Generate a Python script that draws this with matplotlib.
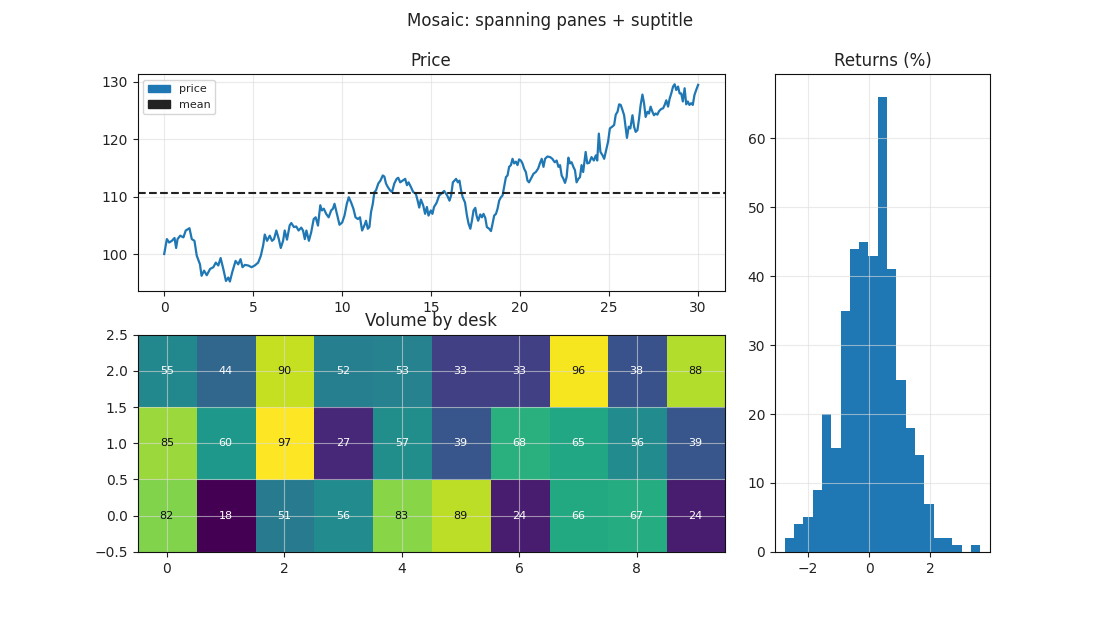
import numpy as np
import matplotlib
matplotlib.use("Agg")
import matplotlib.pyplot as plt
import matplotlib.patches as mpatches

# price series (time, price)
t_price = [
    0, 0.15, 0.28, 0.43, 0.58, 0.67, 0.75, 0.9, 1.08, 1.21, 1.42, 1.55, 1.7, 1.83, 2.01, 2.1,
    2.24, 2.39, 2.58, 2.76, 2.9, 3.04, 3.17, 3.32, 3.47, 3.6, 3.69, 3.82, 4.01, 4.16, 4.29, 4.4,
    4.53, 4.72, 4.91, 5.09, 5.28, 5.43, 5.56, 5.65, 5.78, 5.93, 6.06, 6.17, 6.3, 6.44, 6.55, 6.68,
    6.77, 6.9, 7.05, 7.14, 7.29, 7.42, 7.55, 7.7,
    7.8, 7.9, 7.99, 8.13, 8.26, 8.4, 8.51, 8.64, 8.77, 8.86, 8.97, 9.1, 9.24, 9.38, 9.48, 9.57,
    9.66, 9.76, 9.85, 10.0, 10.13, 10.26, 10.37, 10.5, 10.63, 10.75, 10.88, 11.0, 11.12, 11.25,
    11.34, 11.44, 11.53, 11.62, 11.72, 11.81, 11.9, 12.03, 12.15, 12.28, 12.37, 12.46, 12.56,
    12.69, 12.8, 12.93, 13.06, 13.15, 13.26, 13.4, 13.54, 13.64, 13.73, 13.86, 13.99, 14.14,
    14.24, 14.33, 14.42, 14.55, 14.66, 14.76, 14.85, 14.98, 15.07, 15.16, 15.3, 15.45, 15.6, 15.73,
    15.9, 16.03, 16.12, 16.22, 16.31, 16.4, 16.5, 16.59, 16.68, 16.77, 16.9, 17.01, 17.1, 17.2,
    17.29, 17.38, 17.48, 17.55, 17.64, 17.76, 17.85, 17.94, 18.04, 18.13, 18.26, 18.36, 18.45,
    18.54, 18.64, 18.73, 18.82, 18.92, 19.01, 19.1, 19.2, 19.29, 19.38, 19.48, 19.57, 19.66,
    19.76, 19.85, 19.94, 20.04, 20.13, 20.22, 20.32, 20.41, 20.5, 20.6, 20.75, 20.88, 21.01,
    21.12, 21.21, 21.31, 21.4, 21.53, 21.68, 21.81, 21.94, 22.05, 22.15, 22.24, 22.33, 22.43,
    22.52, 22.61, 22.71, 22.8, 22.89, 22.99, 23.08, 23.17, 23.27, 23.36,
    23.45, 23.54, 23.68, 23.77, 23.88, 24.01, 24.14, 24.25, 24.33, 24.42, 24.51, 24.63, 24.72,
    24.81, 24.94, 25.04, 25.17, 25.28, 25.37, 25.47, 25.56, 25.65, 25.75, 25.84, 25.93, 26.0,
    26.1, 26.19, 26.31, 26.4, 26.49, 26.59, 26.68, 26.77, 26.87, 26.96, 27.05, 27.15, 27.24,
    27.33, 27.43, 27.52, 27.61, 27.71, 27.8, 27.93, 28.03, 28.12, 28.21, 28.31, 28.4, 28.49,
    28.59, 28.68, 28.77, 28.87, 28.96, 29.05, 29.14, 29.24, 29.33, 29.42, 29.51, 29.61, 29.7,
    29.79, 29.89, 30.0,
]
price = [
    100.0, 102.6, 102.0, 102.3, 102.8, 101.05, 102.6, 103.2, 102.9, 104.1, 104.5, 102.6, 102.3,
    99.7, 98.2, 96.2, 97.1, 96.3, 97.4, 97.7, 98.5, 98.0, 99.3, 97.4, 95.3, 95.9, 95.2, 96.8,
    98.8, 98.2, 99.1, 97.7, 98.1, 98.0, 97.7, 98.0, 98.5, 99.7, 101.5, 103.4, 102.3, 103.2,
    102.3, 102.6, 104.1, 102.6, 101.05, 102.3, 104.1, 102.5, 105.0, 105.4, 104.7, 104.8, 104.1, 104.6,
    104.1, 102.6, 104.1, 102.3, 103.8, 106.1, 106.4, 104.96, 108.5, 107.6, 107.9, 107.0, 106.4,
    107.6, 107.9, 108.75, 107.6, 106.4, 105.1, 105.5, 106.7, 108.75, 109.9, 109.0, 107.9, 106.4,
    106.1, 106.4, 104.1, 105.0, 105.8, 104.4, 104.7, 107.3, 108.75, 110.8, 111.1, 112.3, 112.8,
    113.7, 113.5, 112.3, 111.7, 111.1, 110.8, 112.3, 113.1, 113.3, 112.5, 112.8, 113.1, 112.0,
    112.5, 111.7, 110.8, 110.5, 109.3, 108.1, 109.5, 108.5, 107.0, 108.2, 106.7, 107.6, 107.0,
    108.2, 108.9, 110.2, 110.6, 111.0,
    110.2, 109.3, 110.2, 112.5, 112.8, 113.1, 112.5, 112.8, 111.1, 109.9, 109.0, 106.7, 105.3,
    104.4, 105.8, 107.6, 108.05, 106.7, 105.8, 106.9, 106.4, 107.0, 106.3, 104.7, 104.4, 104.0,
    105.3, 106.7, 107.0, 107.9, 109.3, 109.9, 110.2, 111.7, 113.4, 113.7, 115.2, 115.5, 116.6,
    115.8, 116.1, 115.5, 116.5, 116.3, 115.8, 114.9, 114.3, 112.8, 112.5, 113.1, 114.0, 114.3,
    114.9, 115.9, 116.6, 115.2, 116.6, 117.0, 116.9, 116.6, 116.0, 116.3, 115.2, 115.5, 113.7,
    113.1, 112.4, 113.4, 116.8, 115.8, 116.0, 115.2, 114.6, 112.5, 113.1, 113.4,
    115.5, 114.3, 117.8, 115.8, 115.9, 116.9, 116.3, 117.2, 116.3, 121.0, 117.8, 117.2, 116.6,
    117.8, 119.6, 121.9, 122.2, 122.5, 124.3, 124.8, 126.1, 126.0, 125.1, 124.2, 121.9, 120.25,
    122.2, 121.9, 124.2, 122.2, 121.3, 121.6, 123.6, 126.0, 127.8, 126.3, 123.9, 124.8, 124.5,
    125.7, 124.8, 124.2, 124.5, 124.3, 124.9, 125.3, 125.4, 126.0, 126.8, 125.7, 127.1, 128.0,
    129.2, 129.6, 128.6, 129.2, 128.0, 128.0, 126.6, 128.9, 126.1, 126.6, 126.0, 126.3, 126.0,
    127.7, 128.6, 129.5,
]
mean_price = 110.6

# volume by desk, rows bottom -> top
volume = [
    [82, 18, 51, 56, 83, 89, 24, 66, 67, 24],
    [85, 60, 97, 27, 57, 39, 68, 65, 56, 39],
    [55, 44, 90, 52, 53, 33, 33, 96, 38, 88],
]

# returns histogram
ret_counts = [2, 4, 5, 9, 20, 15, 35, 44, 45, 43, 66, 41, 25, 18, 14, 7, 2, 2, 1, 0, 1]
ret_lo, ret_hi = -2.77, 3.64

plt.rcParams.update({
    "font.family": "DejaVu Sans",
    "text.color": "#222222",
    "axes.labelcolor": "#222222",
    "xtick.color": "#222222",
    "ytick.color": "#222222",
    "axes.edgecolor": "#111111",
    "axes.grid": True,
    "grid.color": "#dddddd",
    "grid.alpha": 0.6,
    "grid.linewidth": 0.8,
    "axes.titlesize": 12,
    "xtick.labelsize": 10,
    "ytick.labelsize": 10,
})

fig = plt.figure(figsize=(11, 6.2), dpi=100)
gs = fig.add_gridspec(2, 2, width_ratios=[587, 215], wspace=0.1247, hspace=0.2,
                      left=0.125, right=0.9, top=0.88, bottom=0.11)
ax_p = fig.add_subplot(gs[0, 0])
ax_h = fig.add_subplot(gs[1, 0])
ax_r = fig.add_subplot(gs[:, 1])

#price pane
ax_p.plot(t_price, price, color="#1f77b4", lw=1.6)
ax_p.axhline(mean_price, color="#222222", ls="--", lw=1.5)
ax_p.set_title("Price")
handles = [mpatches.Patch(color="#1f77b4", label="price"),
           mpatches.Patch(color="#222222", label="mean")]
ax_p.legend(handles=handles, loc="upper left", fontsize=8)

#heatmap pane
vol = np.array(volume)
ax_h.imshow(vol, origin="lower", aspect="auto", cmap="viridis")
for i in range(vol.shape[0]):
    for j in range(vol.shape[1]):
        v = vol[i, j]
        ax_h.text(j, i, str(v), ha="center", va="center", fontsize=8,
                  color="#111111" if v > 70 else "white")
ax_h.set_title("Volume by desk")

#returns histogram
edges = np.linspace(ret_lo, ret_hi, len(ret_counts) + 1)
centers = (edges[:-1] + edges[1:]) / 2
ax_r.hist(centers, bins=edges, weights=ret_counts, color="#1f77b4")
ax_r.set_title("Returns (%)")

fig.suptitle("Mosaic: spanning panes + suptitle", fontsize=12)
fig.savefig("out.png", dpi=100)
